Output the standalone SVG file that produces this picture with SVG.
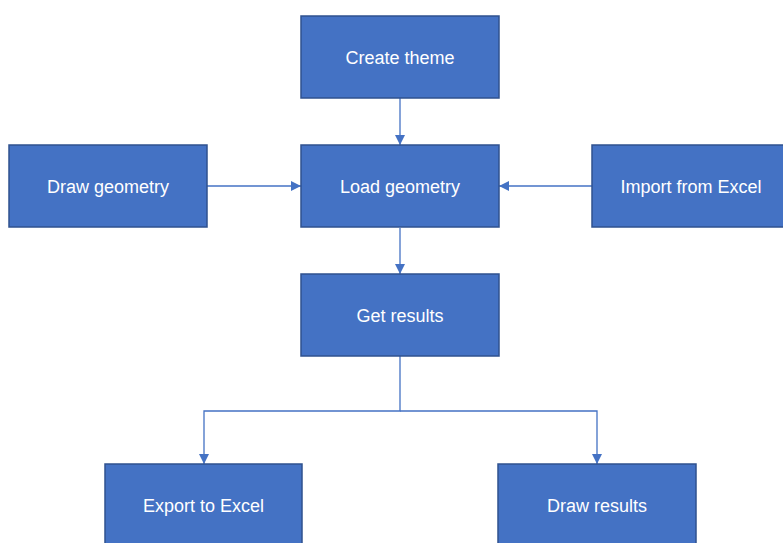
<svg xmlns="http://www.w3.org/2000/svg" width="783" height="543" viewBox="0 0 783 543">
  <style>
    .box { fill: #4472C4; stroke: #2F528F; stroke-width: 1.5; }
    .lbl { fill: #FFFFFF; font-family: "Liberation Sans", Arial, sans-serif; font-size: 18px; text-anchor: middle; dominant-baseline: central; }
    .link { fill: none; stroke: #4472C4; stroke-width: 1.3; }
  </style>
  <defs>
    <marker id="arrow" viewBox="0 0 10 10" refX="10" refY="5" markerWidth="10" markerHeight="10" markerUnits="userSpaceOnUse" orient="auto">
      <path d="M0,0 L10,5 L0,10 Z" fill="#4472C4"/>
    </marker>
  </defs>
  <rect width="783" height="543" fill="#FFFFFF"/>

  <g id="connectors">
    <path class="link" d="M400,98 V145" marker-end="url(#arrow)"/>
    <path class="link" d="M207,186 H301" marker-end="url(#arrow)"/>
    <path class="link" d="M592,186 H499" marker-end="url(#arrow)"/>
    <path class="link" d="M400,228 V274" marker-end="url(#arrow)"/>
    <path class="link" d="M400,356 V411 H204 V464" marker-end="url(#arrow)"/>
    <path class="link" d="M400,411 H597 V464" marker-end="url(#arrow)"/>
  </g>

  <g id="create-theme">
    <rect class="box" x="301" y="16" width="198" height="82"/>
    <text class="lbl" x="400" y="58">Create theme</text>
  </g>
  <g id="draw-geometry">
    <rect class="box" x="9" y="145" width="198" height="82"/>
    <text class="lbl" x="108" y="187">Draw geometry</text>
  </g>
  <g id="load-geometry">
    <rect class="box" x="301" y="145" width="198" height="82"/>
    <text class="lbl" x="400" y="187">Load geometry</text>
  </g>
  <g id="import-from-excel">
    <rect class="box" x="592" y="145" width="198" height="82"/>
    <text class="lbl" x="691" y="187">Import from Excel</text>
  </g>
  <g id="get-results">
    <rect class="box" x="301" y="274" width="198" height="82"/>
    <text class="lbl" x="400" y="316">Get results</text>
  </g>
  <g id="export-to-excel">
    <rect class="box" x="105" y="464" width="197" height="82"/>
    <text class="lbl" x="203.5" y="506">Export to Excel</text>
  </g>
  <g id="draw-results">
    <rect class="box" x="498" y="464" width="198" height="82"/>
    <text class="lbl" x="597" y="506">Draw results</text>
  </g>
</svg>
